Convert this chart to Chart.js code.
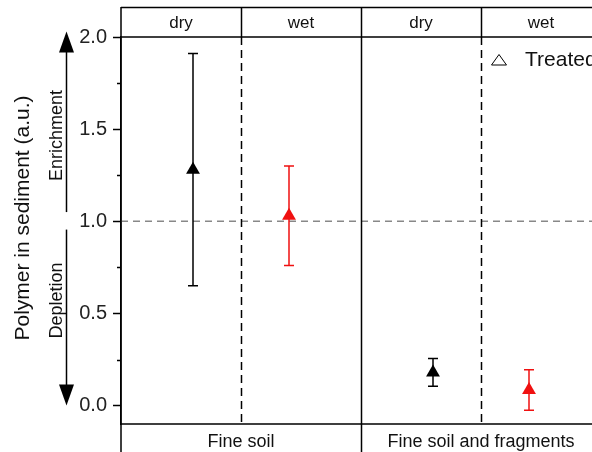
<!DOCTYPE html>
<html>
<head>
<meta charset="utf-8">
<script src="https://cdn.jsdelivr.net/npm/chart.js@4/dist/chart.umd.min.js"></script>
<style>
  html, body { margin: 0; padding: 0; background: #fff; overflow: hidden; }
  canvas { display: block; }
</style>
</head>
<body>
<canvas id="chart" width="620" height="452"></canvas>
<script>
'use strict';

// Polymer in sediment — treated samples, dry vs wet, two soil groups

const GROUPS     = ['Fine soil', 'Fine soil and fragments'];
const CONDITIONS = ['dry', 'wet', 'dry', 'wet'];
const X_POS      = [0.6, 1.4, 2.6, 3.4];      // position inside the four columns
const MEANS      = [1.28, 1.03, 0.18, 0.085];
const ERRS       = [0.63, 0.27, 0.075, 0.11];

const Y_MAJOR = [0, 0.5, 1.0, 1.5, 2.0];
const Y_MINOR = [0.25, 0.75, 1.25, 1.75];
const COL_EDGES = [1, 2, 3];                   // dashed at 1 and 3, solid at 2
const REF_LINE = 1.0;

const FONT = "'Liberation Sans', Arial, sans-serif";
const RED = '#f01010';
const BLACK = '#000';

function pointsFor(cond) {
  const out = [];
  CONDITIONS.forEach((c, i) => {
    if (c === cond) out.push({ x: X_POS[i], y: MEANS[i], err: ERRS[i] });
  });
  return out;
}

const frame = {
  id: 'frame',
  beforeDatasetsDraw(chart) {
    const { ctx, chartArea: a, scales: { x, y } } = chart;
    ctx.save();

    // reference line at 1.0
    ctx.strokeStyle = '#888';
    ctx.lineWidth = 1.5;
    ctx.setLineDash([7, 5]);
    ctx.beginPath();
    ctx.moveTo(a.left, y.getPixelForValue(REF_LINE));
    ctx.lineTo(a.right, y.getPixelForValue(REF_LINE));
    ctx.stroke();

    // column separators
    ctx.strokeStyle = BLACK;
    COL_EDGES.forEach(v => {
      const px = Math.round(x.getPixelForValue(v)) + 0.5;
      ctx.setLineDash(v === 2 ? [] : [8, 5]);
      ctx.beginPath();
      ctx.moveTo(px, a.top);
      ctx.lineTo(px, a.bottom);
      ctx.stroke();
    });
    ctx.setLineDash([]);

    // error bars
    chart.data.datasets.forEach(ds => {
      ctx.strokeStyle = ds.backgroundColor;
      ctx.lineWidth = 1.5;
      ds.data.forEach(p => {
        const px = x.getPixelForValue(p.x);
        const top = y.getPixelForValue(p.y + p.err);
        const bot = y.getPixelForValue(p.y - p.err);
        ctx.beginPath();
        ctx.moveTo(px, top); ctx.lineTo(px, bot);
        ctx.moveTo(px - 5, top); ctx.lineTo(px + 5, top);
        ctx.moveTo(px - 5, bot); ctx.lineTo(px + 5, bot);
        ctx.stroke();
      });
    });
    ctx.restore();
  },
  afterDraw(chart) {
    const { ctx, chartArea: a, scales: { x, y } } = chart;
    const H = chart.height;
    const bandTop = 7;
    ctx.save();
    ctx.strokeStyle = BLACK;
    ctx.lineWidth = 1.5;

    // header band and bottom band
    ctx.beginPath();
    ctx.moveTo(a.left, bandTop + 0.5); ctx.lineTo(a.right, bandTop + 0.5);
    ctx.moveTo(a.left, a.top); ctx.lineTo(a.right, a.top);
    ctx.moveTo(a.left, a.bottom); ctx.lineTo(a.right, a.bottom);
    ctx.moveTo(a.left, bandTop); ctx.lineTo(a.left, H);
    COL_EDGES.forEach(v => {
      const px = Math.round(x.getPixelForValue(v)) + 0.5;
      ctx.moveTo(px, bandTop); ctx.lineTo(px, a.top);
      if (v === 2) { ctx.moveTo(px, a.bottom); ctx.lineTo(px, H); }
    });
    ctx.stroke();

    // minor ticks
    ctx.beginPath();
    Y_MINOR.forEach(v => {
      const py = Math.round(y.getPixelForValue(v)) + 0.5;
      ctx.moveTo(a.left - 4, py); ctx.lineTo(a.left, py);
    });
    ctx.stroke();

    // column labels
    ctx.fillStyle = '#111';
    ctx.font = '17px ' + FONT;
    ctx.textAlign = 'center';
    ctx.textBaseline = 'middle';
    CONDITIONS.forEach((c, i) => {
      ctx.fillText(c, x.getPixelForValue(i + 0.5), (bandTop + a.top) / 2 + 1);
    });
    ctx.font = '18px ' + FONT;
    ctx.textBaseline = 'alphabetic';
    GROUPS.forEach((g, i) => {
      ctx.fillText(g, x.getPixelForValue(i * 2 + 1), a.bottom + 23);
    });

    // legend
    const lx = 499, ly = 60;
    ctx.lineWidth = 1;
    ctx.beginPath();
    ctx.moveTo(lx, ly - 5.5);
    ctx.lineTo(lx + 7.5, ly + 5);
    ctx.lineTo(lx - 7.5, ly + 5);
    ctx.closePath();
    ctx.stroke();
    ctx.font = '21px ' + FONT;
    ctx.textAlign = 'left';
    ctx.fillText('Treated', 525, 66);

    // axis title and enrichment / depletion arrows
    const rotText = (txt, bx, cy, size) => {
      ctx.save();
      ctx.translate(bx, cy);
      ctx.rotate(-Math.PI / 2);
      ctx.font = size + 'px ' + FONT;
      ctx.textAlign = 'center';
      ctx.textBaseline = 'alphabetic';
      ctx.fillText(txt, 0, 0);
      ctx.restore();
    };
    rotText('Polymer in sediment (a.u.)', 29, 218, 21);
    rotText('Enrichment', 62, y.getPixelForValue(1.465), 18);
    rotText('Depletion', 62, y.getPixelForValue(0.57), 18);

    const ax = 66.5;
    const arrow = (from, to) => {
      const y0 = y.getPixelForValue(from), y1 = y.getPixelForValue(to);
      const dir = y1 < y0 ? 1 : -1;
      ctx.lineWidth = 1.5;
      ctx.beginPath();
      ctx.moveTo(ax, y0); ctx.lineTo(ax, y1 + dir * 20);
      ctx.stroke();
      ctx.fillStyle = BLACK;
      ctx.beginPath();
      ctx.moveTo(ax, y1);
      ctx.lineTo(ax + 7.5, y1 + dir * 21);
      ctx.lineTo(ax - 7.5, y1 + dir * 21);
      ctx.closePath();
      ctx.fill();
    };
    arrow(1.05, 2.03);
    arrow(0.955, 0.0);

    ctx.restore();
  }
};

new Chart(document.getElementById('chart'), {
  type: 'scatter',
  data: {
    datasets: [
      { label: 'dry', data: pointsFor('dry'), backgroundColor: BLACK, borderColor: BLACK },
      { label: 'wet', data: pointsFor('wet'), backgroundColor: RED, borderColor: RED },
    ],
  },
  options: {
    responsive: false,
    animation: false,
    layout: { padding: { left: 0, top: 37, right: 19, bottom: 28 } },
    elements: { point: { pointStyle: 'triangle', radius: 8, borderWidth: 0, hoverRadius: 8 } },
    plugins: { legend: { display: false }, tooltip: { enabled: false } },
    scales: {
      x: { type: 'linear', min: 0, max: 4, display: false },
      y: {
        type: 'linear',
        min: -0.1,
        max: 2.0,
        afterBuildTicks: s => { s.ticks = Y_MAJOR.map(v => ({ value: v })); },
        afterFit: s => { s.width = 121; },
        border: { display: true, color: BLACK, width: 1.5 },
        grid: { drawOnChartArea: false, drawTicks: true, tickLength: 8, tickColor: BLACK, tickWidth: 1.5 },
        ticks: {
          padding: 6,
          color: '#222',
          font: { size: 20, family: FONT },
          callback: v => v.toFixed(1),
        },
      },
    },
  },
  plugins: [frame],
});
</script>
</body>
</html>
